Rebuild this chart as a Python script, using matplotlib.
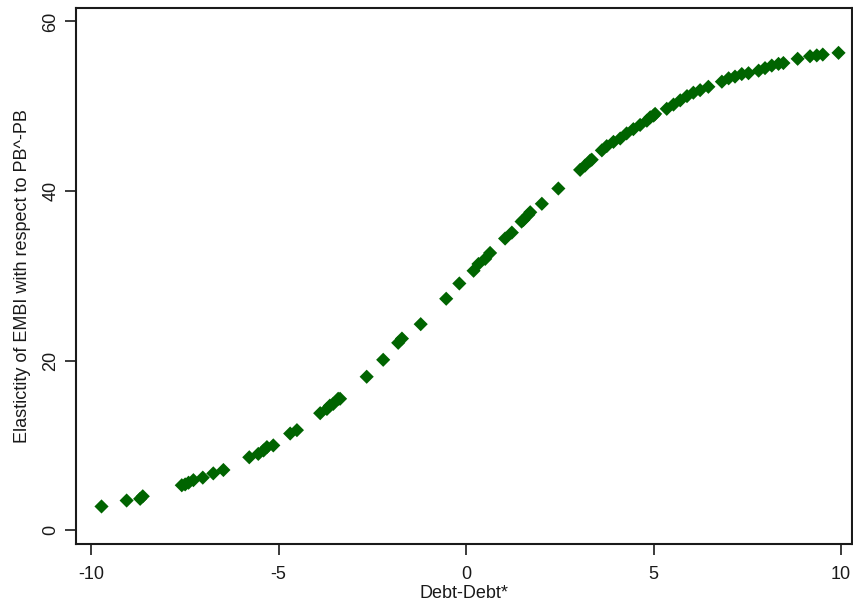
import matplotlib
matplotlib.use("Agg")
import matplotlib.pyplot as plt

# values
gap = [-9.72, -9.05, -8.69, -8.62, -7.58, -7.49, -7.40, -7.27, -7.02, -6.74,
       -6.47, -5.78, -5.54, -5.40, -5.31, -5.14, -4.69, -4.51, -3.89, -3.71,
       -3.63, -3.54, -3.41, -3.36, -2.65, -2.21, -1.81, -1.71, -1.21, -0.53,
       -0.18, 0.20, 0.33, 0.51, 0.64, 1.04, 1.22, 1.48, 1.53, 1.66,
       1.71, 2.02, 2.46, 3.04, 3.17, 3.31, 3.35, 3.62, 3.75, 3.93,
       4.11, 4.28, 4.46, 4.64, 4.82, 4.91, 5.00, 5.04, 5.35, 5.53,
       5.71, 5.89, 6.06, 6.24, 6.46, 6.82, 7.00, 7.17, 7.35, 7.53,
       7.80, 7.97, 8.15, 8.33, 8.46, 8.84, 9.17, 9.35, 9.51, 9.93]
elasticity = [2.8, 3.5, 3.7, 4.0, 5.3, 5.4, 5.6, 5.9, 6.2, 6.7,
              7.1, 8.6, 9.0, 9.4, 9.8, 10.0, 11.4, 11.8, 13.8, 14.3,
              14.7, 14.9, 15.5, 15.5, 18.1, 20.1, 22.1, 22.6, 24.3, 27.3,
              29.1, 30.6, 31.4, 32.0, 32.7, 34.4, 35.1, 36.4, 36.6, 37.2,
              37.5, 38.5, 40.3, 42.5, 43.0, 43.6, 43.7, 44.8, 45.3, 45.8,
              46.2, 46.8, 47.3, 47.8, 48.3, 48.7, 48.9, 49.1, 49.7, 50.2,
              50.7, 51.2, 51.6, 51.9, 52.3, 52.9, 53.3, 53.5, 53.8, 53.9,
              54.2, 54.5, 54.8, 55.0, 55.1, 55.6, 55.9, 56.0, 56.1, 56.3]

xticks = [-10, -5, 0, 5, 10]
yticks = [0, 20, 40, 60]

plt.rcParams['font.family'] = ['Liberation Sans', 'DejaVu Sans']
plt.rcParams['axes.unicode_minus'] = False

fig = plt.figure(figsize=(8.54, 6.06), dpi=100)
ax = fig.add_axes([0.089, 0.102, 0.9087, 0.8845])

ax.scatter(gap, elasticity, marker='D', s=52, color='#006400', edgecolors='none')

ax.set_xlim(-10.4, 10.29)
ax.set_ylim(-1.65, 61.57)
ax.set_xticks(xticks)
ax.set_yticks(yticks)
ax.tick_params(axis='both', length=8, width=1.2, labelsize=13, colors='#1a1a1a')
ax.tick_params(axis='x', pad=8)
ax.tick_params(axis='y', labelrotation=90, pad=4)
for lbl in ax.get_yticklabels():
    lbl.set_va('center')

for s in ax.spines.values():
    s.set_linewidth(1.5)
    s.set_color('#1a1a1a')

ax.set_xlabel('Debt-Debt*', fontsize=13, labelpad=1, color='#1a1a1a')
ax.set_ylabel('Elastictity of EMBI with respect to PB^-PB', fontsize=13,
              labelpad=8, color='#1a1a1a')

fig.savefig('out.png', dpi=100)
